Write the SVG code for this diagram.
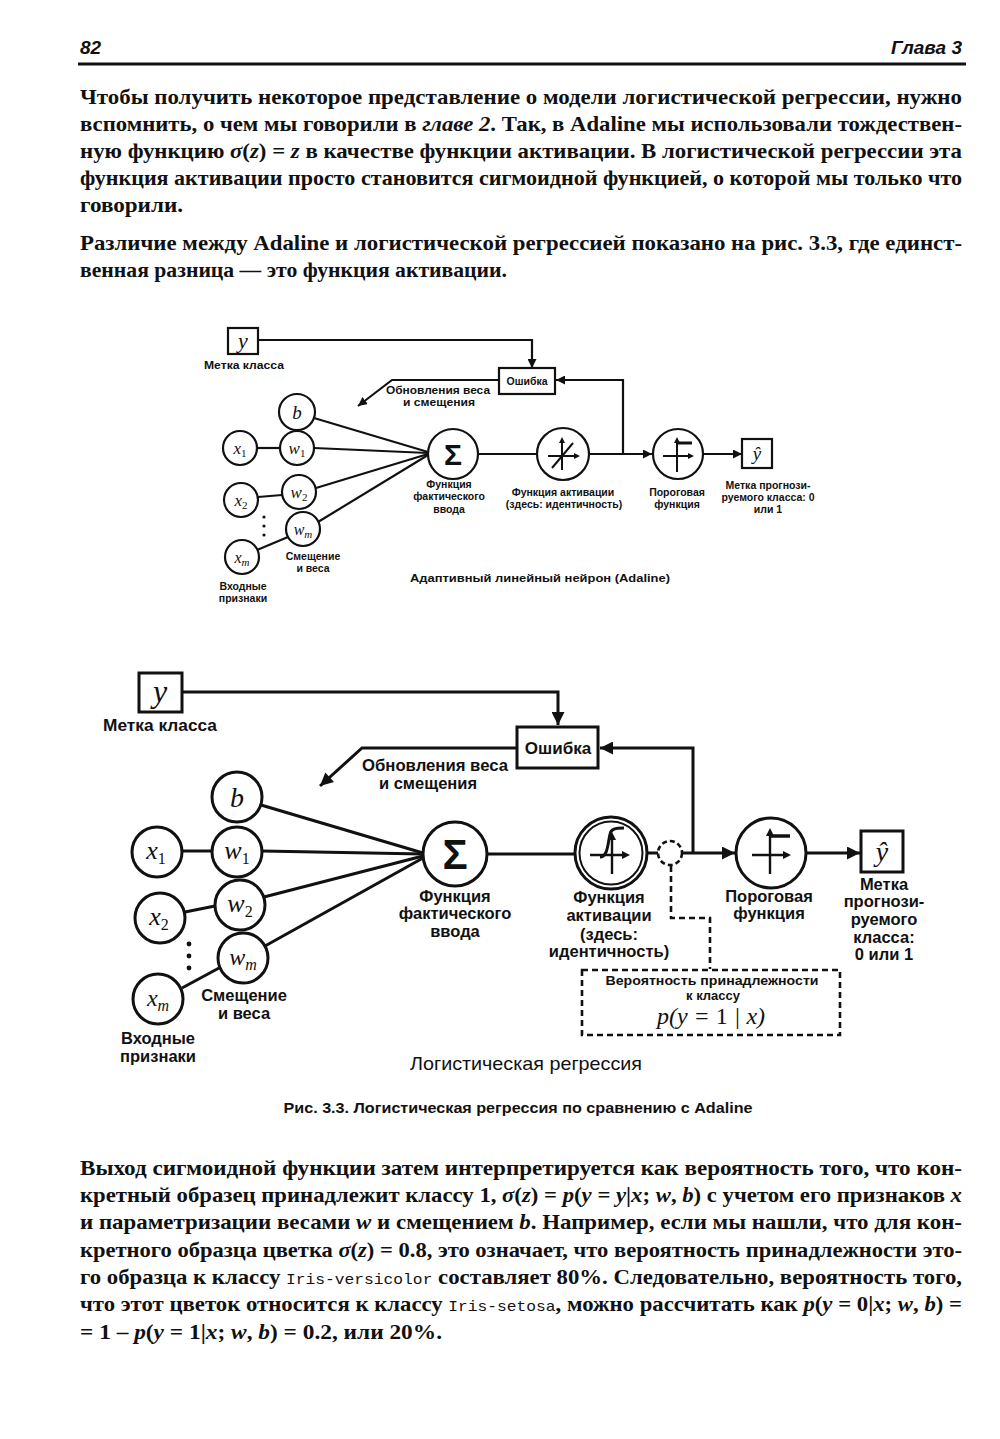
<svg xmlns="http://www.w3.org/2000/svg" width="1000" height="1439" viewBox="0 0 1000 1439">
<defs>
<style>
.t{font-family:"Liberation Serif","Times New Roman",serif;font-size:21px;font-weight:bold;fill:#111}
.i{font-style:italic}
.mono{font-family:"Liberation Mono","Courier New",monospace;font-size:15px;font-weight:normal}
.hd{font-family:"Liberation Sans",Arial,sans-serif;font-size:19px;font-weight:bold;font-style:italic;fill:#111}
.lb{font-family:"Liberation Sans",Arial,sans-serif;font-weight:bold;text-anchor:middle;fill:#111}
.s{font-size:10.5px}
.L{font-size:16.5px}
.m{font-family:"Liberation Serif","Times New Roman",serif;font-style:italic;text-anchor:middle;fill:#111}
.up{font-style:normal}
.ln{stroke:#111;fill:none}
.n1{stroke:#111;stroke-width:2.2;fill:#fff}
.n2{stroke:#111;stroke-width:3;fill:#fff}
.d{stroke:#111;fill:none;stroke-width:2.6;stroke-dasharray:6 4}
</style>
<marker id="a1" viewBox="0 0 10 10" refX="10" refY="5" markerWidth="9" markerHeight="9" markerUnits="userSpaceOnUse" orient="auto"><path d="M0,0 L10,5 L0,10 z" fill="#111"/></marker>
<marker id="a2" viewBox="0 0 10 10" refX="10" refY="5" markerWidth="14" markerHeight="13" markerUnits="userSpaceOnUse" orient="auto"><path d="M0,0 L10,5 L0,10 z" fill="#111"/></marker>
</defs>
<rect width="1000" height="1439" fill="#fff"/>

<!-- header -->
<text class="hd" x="80" y="54">82</text>
<text class="hd" x="962" y="54" text-anchor="end">Глава 3</text>
<line x1="78" y1="64" x2="966" y2="64" stroke="#111" stroke-width="3"/>

<!-- paragraph 1 -->
<text class="t" x="80" y="104" textLength="882" lengthAdjust="spacingAndGlyphs">Чтобы получить некоторое представление о модели логистической регрессии, нужно</text>
<text class="t" x="80" y="131" textLength="882" lengthAdjust="spacingAndGlyphs">вспомнить, о чем мы говорили в <tspan class="i">главе 2</tspan>. Так, в Adaline мы использовали тождествен-</text>
<text class="t" x="80" y="158" textLength="882" lengthAdjust="spacingAndGlyphs">ную функцию <tspan class="i">σ</tspan>(<tspan class="i">z</tspan>) = <tspan class="i">z</tspan> в качестве функции активации. В логистической регрессии эта</text>
<text class="t" x="80" y="185" textLength="882" lengthAdjust="spacingAndGlyphs">функция активации просто становится сигмоидной функцией, о которой мы только что</text>
<text class="t" x="80" y="212" textLength="103" lengthAdjust="spacingAndGlyphs">говорили.</text>
<text class="t" x="80" y="250" textLength="882" lengthAdjust="spacingAndGlyphs">Различие между Adaline и логистической регрессией показано на рис. 3.3, где единст-</text>
<text class="t" x="80" y="277" textLength="427" lengthAdjust="spacingAndGlyphs">венная разница — это функция активации.</text>

<!-- ===== TOP DIAGRAM (Adaline) ===== -->
<g id="top-connectors" class="ln" stroke-width="2.2">
  <polyline points="258,340 532,340 532,368" marker-end="url(#a1)"/>
  <polyline points="623,454 623,380 556,380" marker-end="url(#a1)"/>
  <polyline points="499,380 392,380 358,406" marker-end="url(#a1)"/>
  <line x1="257" y1="448" x2="280" y2="448"/>
  <line x1="258" y1="497" x2="282" y2="495"/>
  <line x1="257" y1="550" x2="288" y2="537"/>
  <line x1="314" y1="418" x2="428" y2="452"/>
  <line x1="314" y1="448" x2="428" y2="453"/>
  <line x1="316" y1="488" x2="428" y2="454"/>
  <line x1="318" y1="522" x2="428" y2="455"/>
  <line x1="478" y1="454" x2="537" y2="454"/>
  <line x1="589" y1="454" x2="652" y2="454" marker-end="url(#a1)"/>
  <line x1="703" y1="454" x2="742" y2="454" marker-end="url(#a1)"/>
</g>
<g id="top-y">
  <rect x="228" y="328" width="30" height="26" class="n1"/>
  <text class="m" x="243" y="348" font-size="22">y</text>
  <text class="lb s" x="244" y="369" textLength="80" lengthAdjust="spacingAndGlyphs">Метка класса</text>
</g>
<g id="top-error">
  <rect x="499" y="368" width="56" height="26" class="n1"/>
  <text class="lb" x="527" y="385" font-size="10.5">Ошибка</text>
</g>
<g id="top-update-label">
  <text class="lb s" x="438" y="394" textLength="104" lengthAdjust="spacingAndGlyphs">Обновления веса</text>
  <text class="lb s" x="439" y="406" textLength="72" lengthAdjust="spacingAndGlyphs">и смещения</text>
</g>
<g id="top-b"><circle cx="297" cy="412" r="18" class="n1"/><text class="m" x="297" y="419" font-size="19">b</text></g>
<g id="top-x1"><circle cx="240" cy="448" r="17" class="n1"/><text class="m" x="240" y="454" font-size="17">x<tspan class="up" font-size="11" dy="3">1</tspan></text></g>
<g id="top-w1"><circle cx="297" cy="448" r="17" class="n1"/><text class="m" x="297" y="454" font-size="17">w<tspan class="up" font-size="11" dy="3">1</tspan></text></g>
<g id="top-x2"><circle cx="241" cy="500" r="17" class="n1"/><text class="m" x="241" y="506" font-size="17">x<tspan class="up" font-size="11" dy="3">2</tspan></text></g>
<g id="top-w2"><circle cx="299" cy="492" r="17" class="n1"/><text class="m" x="299" y="498" font-size="17">w<tspan class="up" font-size="11" dy="3">2</tspan></text></g>
<g id="top-wm"><circle cx="303" cy="529" r="17" class="n1"/><text class="m" x="303" y="535" font-size="16">w<tspan font-size="11" dy="3">m</tspan></text></g>
<g id="top-xm"><circle cx="242" cy="557" r="17" class="n1"/><text class="m" x="242" y="563" font-size="16">x<tspan font-size="11" dy="3">m</tspan></text></g>
<g id="top-dots" fill="#111"><circle cx="264" cy="517" r="1.6"/><circle cx="264" cy="526" r="1.6"/><circle cx="264" cy="535" r="1.6"/></g>
<g id="top-labels-left">
  <text class="lb s" x="313" y="560">Смещение</text>
  <text class="lb s" x="313" y="572">и веса</text>
  <text class="lb s" x="243" y="590">Входные</text>
  <text class="lb s" x="243" y="602">признаки</text>
</g>
<g id="top-sum">
  <circle cx="453" cy="454" r="25" class="n1"/>
  <text class="lb" x="453" y="465" font-size="30">Σ</text>
  <text class="lb s" x="449" y="488">Функция</text>
  <text class="lb s" x="449" y="500">фактического</text>
  <text class="lb s" x="449" y="513">ввода</text>
</g>
<g id="top-activation">
  <circle cx="563" cy="454" r="26" class="n1"/>
  <g class="ln" stroke-width="2">
    <line x1="548" y1="456" x2="576" y2="456"/>
    <line x1="562" y1="470" x2="562" y2="441"/>
    <line x1="552" y1="468" x2="573" y2="443"/>
  </g>
  <path d="M580,456 L574,453 L574,459 z M562,437 L559,443 L565,443 z" fill="#111"/>
  <text class="lb s" x="563" y="496">Функция активации</text>
  <text class="lb s" x="564" y="508">(здесь: идентичность)</text>
</g>
<g id="top-threshold">
  <circle cx="678" cy="454" r="25" class="n1"/>
  <g class="ln" stroke-width="2">
    <line x1="663" y1="456" x2="690" y2="456"/>
    <line x1="677" y1="472" x2="677" y2="441"/>
    <line x1="677" y1="443" x2="692" y2="443" stroke-width="3"/>
  </g>
  <path d="M694,456 L688,453 L688,459 z M677,437 L674,443 L680,443 z" fill="#111"/>
  <text class="lb s" x="677" y="496">Пороговая</text>
  <text class="lb s" x="677" y="508">функция</text>
</g>
<g id="top-yhat">
  <rect x="742" y="439" width="30" height="29" class="n1"/>
  <text class="m" x="757" y="460" font-size="19">ŷ</text>
  <text class="lb s" x="768" y="489">Метка прогнози-</text>
  <text class="lb s" x="768" y="501">руемого класса: 0</text>
  <text class="lb s" x="768" y="513">или 1</text>
</g>
<text class="lb" x="540" y="582" font-size="11.5" textLength="260" lengthAdjust="spacingAndGlyphs">Адаптивный линейный нейрон (Adaline)</text>

<!-- ===== BOTTOM DIAGRAM (Logistic regression) ===== -->
<g id="bottom-connectors" class="ln" stroke-width="3">
  <polyline points="182,692 558,692 558,725" marker-end="url(#a2)"/>
  <polyline points="693,853 693,748 600,748" marker-end="url(#a2)"/>
  <polyline points="517,748 362,748 320,786" marker-end="url(#a2)"/>
  <line x1="182" y1="851" x2="211" y2="851"/>
  <line x1="185" y1="912" x2="215" y2="906"/>
  <line x1="182" y1="988" x2="219" y2="968"/>
  <line x1="261" y1="805" x2="423" y2="853"/>
  <line x1="262" y1="851" x2="423" y2="854"/>
  <line x1="264" y1="897" x2="423" y2="856"/>
  <line x1="265" y1="946" x2="423" y2="858"/>
  <line x1="487" y1="854" x2="575" y2="854"/>
  <line x1="647" y1="853" x2="658" y2="853"/>
  <line x1="682" y1="853" x2="735" y2="853" marker-end="url(#a2)"/>
  <line x1="806" y1="853" x2="860" y2="853" marker-end="url(#a2)"/>
  <polyline class="d" points="671,866 671,918 710,918 710,969"/>
</g>
<g id="bottom-y">
  <rect x="139" y="673" width="43" height="39" class="n2"/>
  <text class="m" x="160" y="702" font-size="32">y</text>
  <text class="lb L" x="160" y="731" textLength="114" lengthAdjust="spacingAndGlyphs">Метка класса</text>
</g>
<g id="bottom-error">
  <rect x="517" y="727" width="81" height="41" class="n2"/>
  <text class="lb" x="558" y="754" font-size="17">Ошибка</text>
</g>
<g id="bottom-update-label">
  <text class="lb L" x="435" y="771" textLength="146" lengthAdjust="spacingAndGlyphs">Обновления веса</text>
  <text class="lb L" x="428" y="789">и смещения</text>
</g>
<g id="bottom-b"><circle cx="237" cy="797" r="25" class="n2"/><text class="m" x="237" y="807" font-size="28">b</text></g>
<g id="bottom-x1"><circle cx="157" cy="852" r="25" class="n2"/><text class="m" x="156" y="859" font-size="26">x<tspan class="up" font-size="16" dy="5">1</tspan></text></g>
<g id="bottom-w1"><circle cx="237" cy="852" r="25" class="n2"/><text class="m" x="237" y="859" font-size="26">w<tspan class="up" font-size="16" dy="5">1</tspan></text></g>
<g id="bottom-x2"><circle cx="160" cy="918" r="25" class="n2"/><text class="m" x="159" y="925" font-size="26">x<tspan class="up" font-size="16" dy="5">2</tspan></text></g>
<g id="bottom-w2"><circle cx="240" cy="905" r="25" class="n2"/><text class="m" x="240" y="912" font-size="26">w<tspan class="up" font-size="16" dy="5">2</tspan></text></g>
<g id="bottom-wm"><circle cx="243" cy="958" r="25" class="n2"/><text class="m" x="243" y="965" font-size="24">w<tspan font-size="16" dy="5">m</tspan></text></g>
<g id="bottom-xm"><circle cx="158" cy="999" r="25" class="n2"/><text class="m" x="158" y="1006" font-size="24">x<tspan font-size="16" dy="5">m</tspan></text></g>
<g id="bottom-dots" fill="#111"><circle cx="189" cy="944" r="2.4"/><circle cx="189" cy="956" r="2.4"/><circle cx="189" cy="968" r="2.4"/></g>
<g id="bottom-labels-left">
  <text class="lb L" x="244" y="1001">Смещение</text>
  <text class="lb L" x="244" y="1019">и веса</text>
  <text class="lb L" x="158" y="1044">Входные</text>
  <text class="lb L" x="158" y="1062">признаки</text>
</g>
<g id="bottom-sum">
  <circle cx="455" cy="854" r="32" class="n2"/>
  <text class="lb" x="455" y="869" font-size="42">Σ</text>
  <text class="lb L" x="455" y="902">Функция</text>
  <text class="lb L" x="455" y="919">фактического</text>
  <text class="lb L" x="455" y="937">ввода</text>
</g>
<g id="bottom-activation">
  <circle cx="611" cy="853" r="36" class="n2"/>
  <circle cx="611" cy="853" r="31.5" fill="none" stroke="#111" stroke-width="2"/>
  <g class="ln" stroke-width="2.4">
    <line x1="590" y1="855" x2="625" y2="855"/>
    <line x1="612" y1="874" x2="612" y2="838"/>
    <path d="M600,857 C608,857 608,842 610,834 C611,829 615,828 624,828" stroke-width="3"/>
  </g>
  <path d="M630,855 L622,851 L622,859 z M612,832 L608,840 L616,840 z" fill="#111"/>
  <text class="lb L" x="609" y="903">Функция</text>
  <text class="lb L" x="609" y="921">активации</text>
  <text class="lb L" x="609" y="940">(здесь:</text>
  <text class="lb L" x="609" y="957">идентичность)</text>
</g>
<g id="bottom-prob-node">
  <circle cx="670" cy="853" r="12" fill="#fff" stroke="#111" stroke-width="2.6" stroke-dasharray="5 3"/>
</g>
<g id="bottom-threshold">
  <circle cx="771" cy="853" r="35" class="n2"/>
  <g class="ln" stroke-width="2.4">
    <line x1="752" y1="855" x2="786" y2="855"/>
    <line x1="770" y1="874" x2="770" y2="834"/>
    <line x1="770" y1="836" x2="790" y2="836" stroke-width="3.5"/>
  </g>
  <path d="M791,855 L783,851 L783,859 z M770,828 L766,836 L774,836 z" fill="#111"/>
  <text class="lb L" x="769" y="902">Пороговая</text>
  <text class="lb L" x="769" y="919">функция</text>
</g>
<g id="bottom-yhat">
  <rect x="861" y="831" width="42" height="41" class="n2"/>
  <text class="m" x="882" y="861" font-size="28">ŷ</text>
  <text class="lb L" x="884" y="890">Метка</text>
  <text class="lb L" x="884" y="907">прогнози-</text>
  <text class="lb L" x="884" y="925">руемого</text>
  <text class="lb L" x="884" y="943">класса:</text>
  <text class="lb L" x="884" y="960">0 или 1</text>
</g>
<g id="bottom-prob-box">
  <rect x="582" y="970" width="258" height="65" class="d"/>
  <text class="lb" x="712" y="985" font-size="13" textLength="213" lengthAdjust="spacingAndGlyphs">Вероятность принадлежности</text>
  <text class="lb" x="713" y="1000" font-size="13">к классу</text>
  <text class="m" x="711" y="1024" font-size="24">p(y = <tspan class="up">1</tspan> | x)</text>
</g>
<text x="526" y="1070" font-family="Liberation Sans, Arial, sans-serif" font-size="19" text-anchor="middle" fill="#111" textLength="232" lengthAdjust="spacingAndGlyphs">Логистическая регрессия</text>
<text class="lb" x="518" y="1113" font-size="14.5" textLength="469" lengthAdjust="spacingAndGlyphs">Рис. 3.3. Логистическая регрессия по сравнению с Adaline</text>

<!-- paragraph 3 -->
<text class="t" x="80" y="1175" textLength="882" lengthAdjust="spacingAndGlyphs">Выход сигмоидной функции затем интерпретируется как вероятность того, что кон-</text>
<text class="t" x="80" y="1202" textLength="882" lengthAdjust="spacingAndGlyphs">кретный образец принадлежит классу 1, <tspan class="i">σ</tspan>(<tspan class="i">z</tspan>) = <tspan class="i">p</tspan>(<tspan class="i">y</tspan> = <tspan class="i">y</tspan>|<tspan class="i">x</tspan>; <tspan class="i">w</tspan>, <tspan class="i">b</tspan>) с учетом его признаков <tspan class="i">x</tspan></text>
<text class="t" x="80" y="1229" textLength="882" lengthAdjust="spacingAndGlyphs">и параметризации весами <tspan class="i">w</tspan> и смещением <tspan class="i">b</tspan>. Например, если мы нашли, что для кон-</text>
<text class="t" x="80" y="1257" textLength="882" lengthAdjust="spacingAndGlyphs">кретного образца цветка <tspan class="i">σ</tspan>(<tspan class="i">z</tspan>) = 0.8, это означает, что вероятность принадлежности это-</text>
<text class="t" x="80" y="1284" textLength="882" lengthAdjust="spacingAndGlyphs">го образца к классу <tspan class="mono">Iris-versicolor</tspan> составляет 80%. Следовательно, вероятность того,</text>
<text class="t" x="80" y="1311" textLength="882" lengthAdjust="spacingAndGlyphs">что этот цветок относится к классу <tspan class="mono">Iris-setosa</tspan>, можно рассчитать как <tspan class="i">p</tspan>(<tspan class="i">y</tspan> = 0|<tspan class="i">x</tspan>; <tspan class="i">w</tspan>, <tspan class="i">b</tspan>) =</text>
<text class="t" x="80" y="1339" textLength="362" lengthAdjust="spacingAndGlyphs">= 1 – <tspan class="i">p</tspan>(<tspan class="i">y</tspan> = 1|<tspan class="i">x</tspan>; <tspan class="i">w</tspan>, <tspan class="i">b</tspan>) = 0.2, или 20%.</text>
</svg>
